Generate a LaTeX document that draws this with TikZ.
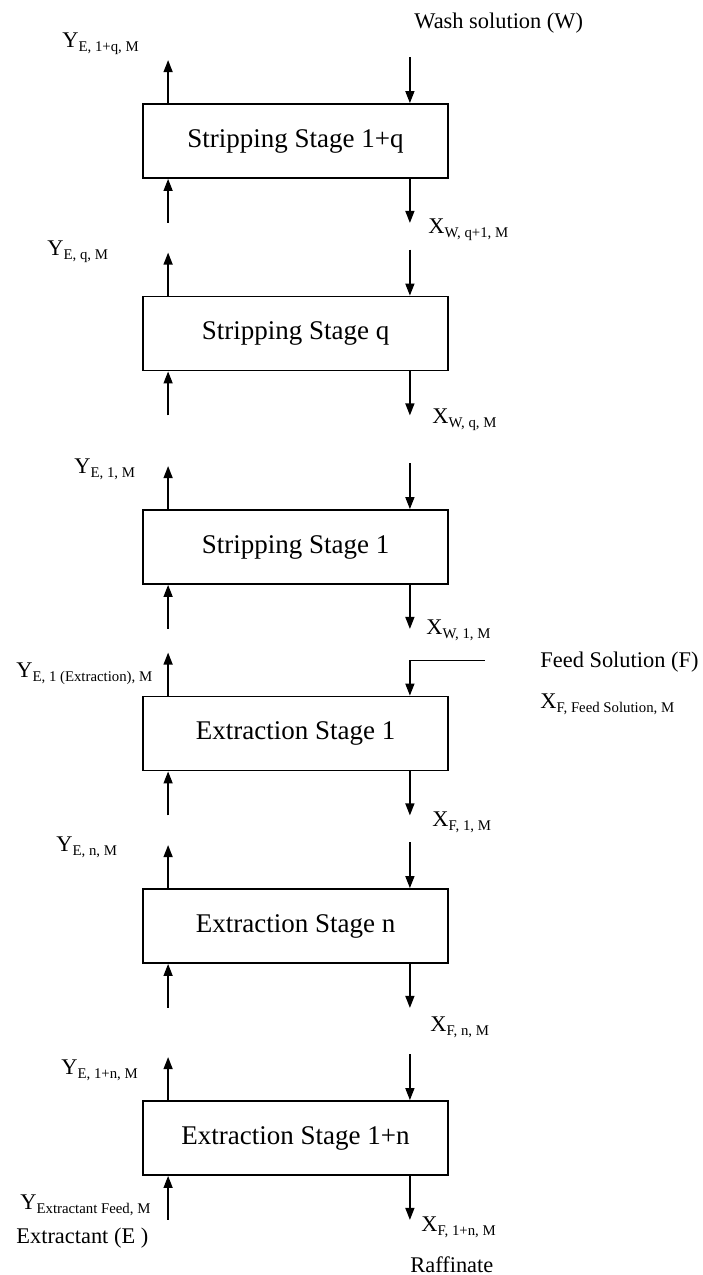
\documentclass[tikz,border=0pt]{standalone}
\usepackage{fontspec}
\setmainfont{Liberation Serif}
\usetikzlibrary{arrows.meta,calc,positioning}
\newcommand{\lsub}[1]{\raisebox{-2pt}{\fontsize{7.4}{8}\selectfont #1}}

\begin{document}
\begin{tikzpicture}[x=.5pt,y={(0pt,-.5pt)},>=Latex,
  stage/.style={draw,line width=.9pt,minimum width=152.5pt,minimum height=37pt,inner sep=0pt,font=\fontsize{13.5}{16}\selectfont},
  lbl/.style={anchor=west,inner sep=0pt,font=\fontsize{11.2}{13}\selectfont},
  flow/.style={-{Triangle[length=6pt,width=4.5pt]},line width=.7pt}]
\useasboundingbox (0,0) rectangle (702,1275);
% stages
\node[stage] (s1) at (295.5,141) {Stripping Stage 1+q};
\node[stage] (s2) at (295.5,333.5) {Stripping Stage q};
\node[stage] (s3) at (295.5,547) {Stripping Stage 1};
\node[stage] (s4) at (295.5,733.5) {Extraction Stage 1};
\node[stage] (s5) at (295.5,926) {Extraction Stage n};
\node[stage] (s6) at (295.5,1138) {Extraction Stage 1+n};
% streams
\foreach \i in {1,...,6}{
  \coordinate (tl\i) at ($(s\i.north west)+(26,0)$);
  \coordinate (tr\i) at ($(s\i.north east)+(-39,0)$);
  \coordinate (bl\i) at ($(s\i.south west)+(26,0)$);
  \coordinate (br\i) at ($(s\i.south east)+(-39,0)$);
  \draw[flow] (tl\i) -- ($(tl\i)+(0,-43)$);
  \draw[flow] ($(bl\i)+(0,44)$) -- (bl\i);
  \draw[flow] (br\i) -- ($(br\i)+(0,44)$);
  \ifnum\i=4\else\draw[flow] ($(tr\i)+(0,-46)$) -- (tr\i);\fi
}
\coordinate (feed) at ($(tr4)+(75,-35)$);
\draw[flow] (feed) -| (tr4);
% labels
\node[lbl] (w) at (414,23) {Wash solution (W)};
\node[lbl] (y1) at (62,44) {Y\lsub{E, 1+q, M}};
\node[lbl] (x1) at (428,230) {X\lsub{W, q+1, M}};
\node[lbl] (y2) at (47,252) {Y\lsub{E, q, M}};
\node[lbl] (x2) at (432,420) {X\lsub{W, q, M}};
\node[lbl] (y3) at (74,469) {Y\lsub{E, 1, M}};
\node[lbl] (x3) at (426,630) {X\lsub{W, 1, M}};
\node[lbl] (y4) at (16,674) {Y\lsub{E, 1 (Extraction), M}};
\node[lbl] (f) at (540,662) {Feed Solution (F)};
\node[lbl] (xf) at (540,704) {X\lsub{F, Feed Solution, M}};
\node[lbl] (x4) at (432,822) {X\lsub{F, 1, M}};
\node[lbl] (y5) at (56,847) {Y\lsub{E, n, M}};
\node[lbl] (x5) at (430,1027) {X\lsub{F, n, M}};
\node[lbl] (y6) at (61,1070) {Y\lsub{E, 1+n, M}};
\node[lbl] (ye) at (20,1205) {Y\lsub{Extractant Feed, M}};
\node[lbl] (e) at (16,1238) {Extractant (E )};
\node[lbl] (x6) at (421,1227) {X\lsub{F, 1+n, M}};
\node[lbl] (r) at (410,1265) {Raffinate};
\end{tikzpicture}
\end{document}
